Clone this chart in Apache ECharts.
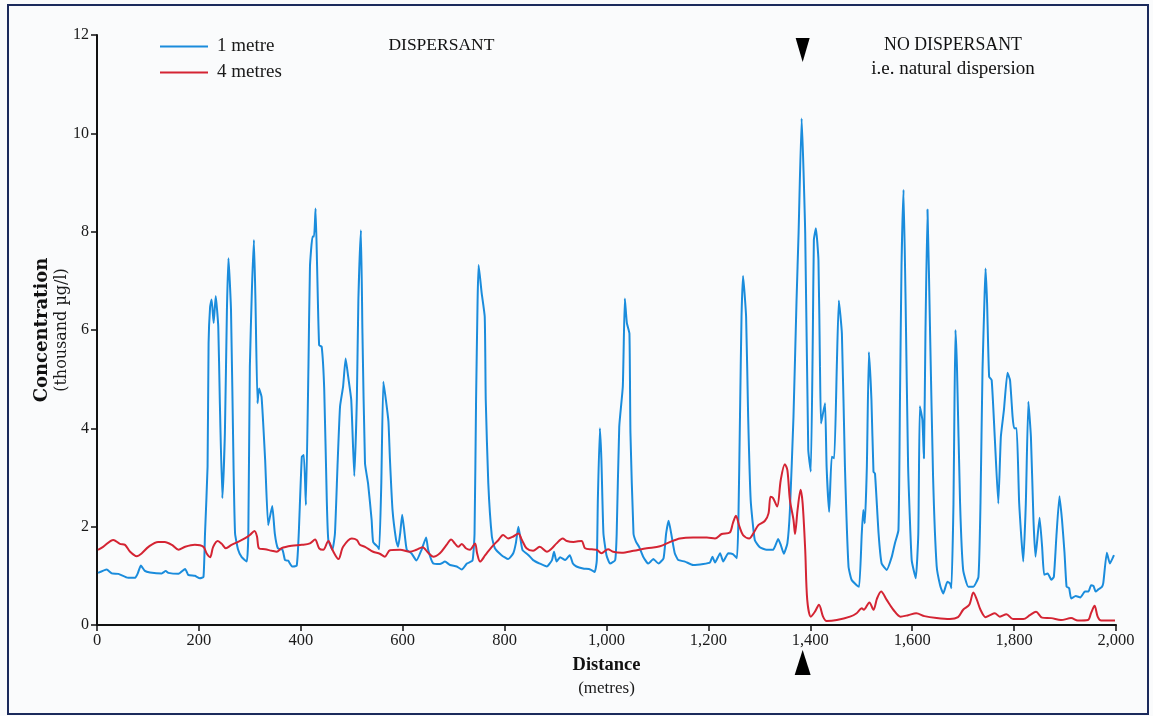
<!DOCTYPE html>
<html>
<head>
<meta charset="utf-8">
<script src="https://cdn.jsdelivr.net/npm/echarts@6/dist/echarts.min.js"></script>
<style>
html,body{margin:0;padding:0;background:#fafbfc;}
#chart{width:1153px;height:716px;}
</style>
</head>
<body>
<div id="chart"></div>
<script>
// ---- Data (distance in metres, concentration in thousand µg/l) ----
const distance1m = [2,19,29,42,61,75,80,86,94,104,127,135,140,160,173,179,192,202,209,212,217,219,222,225,229,233,238,241,246,251,255,258,263,268,271,277,284,294,297,300,304,308,311,315,318,323,330,336,344,349,355,364,369,375,383,392,396,402,406,410,415,418,423,426,429,432,436,441,446,451,454,462,467,472,477,483,488,493,499,505,510,513,518,521,526,532,539,542,551,554,558,562,567,572,575,580,587,591,595,599,603,608,617,627,637,646,650,660,673,683,693,706,716,726,737,741,744,747,749,755,761,763,768,775,781,794,807,817,822,827,830,835,847,856,869,883,893,897,902,909,919,928,934,941,954,968,977,981,983,987,990,994,1000,1007,1017,1020,1025,1032,1036,1040,1045,1047,1053,1058,1064,1072,1082,1092,1102,1112,1117,1122,1128,1134,1141,1154,1170,1190,1203,1208,1213,1223,1229,1239,1248,1256,1259,1262,1265,1268,1274,1278,1283,1291,1301,1314,1327,1337,1342,1348,1355,1360,1367,1373,1377,1383,1390,1396,1401,1405,1407,1411,1416,1419,1421,1425,1429,1432,1437,1442,1447,1452,1456,1462,1468,1475,1481,1491,1496,1501,1504,1507,1511,1515,1520,1524,1527,1534,1540,1550,1560,1566,1573,1576,1579,1583,1587,1592,1599,1607,1612,1615,1620,1623,1626,1630,1635,1641,1648,1655,1661,1669,1674,1677,1681,1683,1685,1688,1694,1700,1710,1720,1730,1734,1738,1742,1744,1747,1751,1756,1762,1769,1774,1780,1787,1792,1797,1800,1805,1810,1818,1823,1828,1833,1838,1842,1850,1855,1859,1866,1873,1878,1883,1889,1894,1899,1903,1908,1912,1921,1930,1939,1946,1951,1956,1960,1966,1972,1975,1982,1988,1996];
const conc1m = [1.06,1.13,1.05,1.04,0.96,0.96,1.05,1.21,1.10,1.07,1.05,1.10,1.06,1.04,1.14,1.02,1.00,0.95,0.98,1.86,3.22,5.73,6.47,6.62,6.14,6.69,6.07,4.58,2.58,3.90,6.41,7.46,6.41,3.22,1.86,1.53,1.38,1.29,1.86,5.25,6.81,7.83,6.61,4.51,4.81,4.64,3.36,2.03,2.42,1.86,1.56,1.53,1.32,1.31,1.19,1.21,1.86,3.42,3.46,2.44,5.25,7.29,7.90,7.90,8.47,7.29,5.69,5.66,4.78,2.54,1.73,1.53,1.86,3.22,4.44,4.85,5.42,5.05,4.58,3.03,4.58,6.61,8.03,5.93,3.29,2.88,2.14,1.69,1.59,1.54,2.88,4.95,4.58,4.14,3.36,2.34,1.73,1.59,1.86,2.24,1.93,1.53,1.46,1.31,1.53,1.78,1.53,1.25,1.24,1.29,1.22,1.19,1.13,1.25,1.31,1.86,4.58,6.61,7.32,6.75,6.27,4.58,2.88,1.80,1.56,1.42,1.34,1.46,1.66,2.00,1.83,1.53,1.42,1.32,1.25,1.19,1.32,1.49,1.29,1.38,1.32,1.42,1.25,1.19,1.15,1.13,1.08,1.32,2.54,4.00,3.36,1.86,1.42,1.25,1.32,1.86,4.03,4.85,6.64,6.14,5.93,3.90,1.86,1.69,1.59,1.39,1.25,1.34,1.25,1.36,1.86,2.12,1.80,1.46,1.32,1.29,1.22,1.24,1.27,1.39,1.27,1.46,1.29,1.46,1.44,1.36,2.20,4.24,6.27,7.10,6.27,4.24,2.54,1.73,1.58,1.53,1.53,1.75,1.63,1.45,1.66,2.34,4.24,6.61,7.97,10.3,7.97,3.56,3.12,5.93,7.83,8.07,7.42,5.25,4.10,4.31,4.51,3.22,2.30,3.42,3.39,5.25,6.60,5.93,3.22,1.19,0.92,0.81,0.78,1.86,2.34,2.07,3.22,5.55,4.58,3.12,3.08,1.86,1.25,1.12,1.39,1.66,1.93,4.58,7.29,8.85,6.61,3.22,1.32,0.95,1.86,4.45,4.17,3.39,5.93,8.45,6.00,3.00,1.20,0.80,0.64,0.88,0.85,0.75,2.47,4.51,6.00,5.19,2.47,1.12,0.78,0.78,0.98,2.47,5.19,6.68,7.25,6.54,5.05,4.98,3.83,2.47,3.83,4.37,5.13,4.98,4.24,4.00,4.00,2.47,1.29,2.47,4.54,3.83,2.14,1.39,2.18,1.59,1.02,1.05,0.92,0.98,1.80,2.62,2.14,1.46,0.78,0.75,0.54,0.59,0.56,0.68,0.68,0.81,0.79,0.68,0.73,0.77,0.85,1.47,1.25,1.42];

const distance4m = [2,12,32,45,55,65,78,88,101,120,133,147,160,173,192,209,215,222,228,237,245,253,264,277,290,300,309,314,318,330,343,353,362,382,402,418,428,436,444,454,462,474,483,500,510,516,526,542,555,565,575,595,614,627,639,650,660,673,686,695,703,709,716,724,732,742,746,752,762,775,788,797,807,817,827,834,843,856,869,883,893,902,914,922,935,951,958,971,981,990,1003,1013,1030,1053,1079,1105,1125,1144,1170,1197,1213,1226,1242,1248,1254,1261,1268,1280,1288,1298,1311,1318,1322,1327,1335,1342,1350,1355,1360,1367,1370,1375,1381,1385,1390,1394,1401,1409,1417,1425,1432,1452,1478,1491,1501,1505,1516,1524,1531,1539,1550,1563,1577,1592,1608,1624,1648,1674,1690,1700,1712,1720,1727,1734,1744,1753,1762,1772,1785,1798,1818,1831,1843,1855,1873,1892,1912,1925,1945,1951,1958,1964,1971,1998];
const conc4m = [1.53,1.59,1.73,1.65,1.63,1.49,1.40,1.46,1.59,1.69,1.69,1.63,1.53,1.59,1.63,1.59,1.46,1.38,1.59,1.71,1.65,1.56,1.63,1.69,1.76,1.83,1.91,1.80,1.56,1.54,1.51,1.49,1.56,1.61,1.63,1.66,1.74,1.56,1.53,1.71,1.53,1.34,1.59,1.76,1.73,1.63,1.59,1.49,1.45,1.39,1.52,1.53,1.49,1.53,1.58,1.47,1.39,1.46,1.63,1.74,1.65,1.59,1.65,1.56,1.53,1.66,1.46,1.29,1.42,1.59,1.73,1.83,1.76,1.80,1.86,1.73,1.56,1.51,1.59,1.49,1.56,1.66,1.76,1.71,1.69,1.71,1.56,1.54,1.53,1.46,1.54,1.49,1.47,1.51,1.56,1.60,1.69,1.76,1.78,1.78,1.76,1.85,1.88,2.07,2.22,2.00,1.83,1.76,1.86,2.03,2.12,2.27,2.61,2.58,2.41,2.95,3.27,3.15,2.54,2.14,1.85,2.34,2.75,2.47,1.53,0.51,0.17,0.27,0.41,0.17,0.08,0.10,0.17,0.24,0.34,0.31,0.46,0.31,0.54,0.68,0.51,0.31,0.17,0.20,0.24,0.18,0.14,0.12,0.16,0.31,0.41,0.66,0.51,0.31,0.16,0.20,0.24,0.17,0.22,0.12,0.12,0.20,0.27,0.15,0.14,0.10,0.14,0.09,0.10,0.24,0.39,0.17,0.09,0.09];

const xTicks = [0,200,400,600,800,1000,1200,1400,1600,1800,2000];
const yTicks = [0,2,4,6,8,10,12];
const switchDistance = 1385; // dispersant stops here (arrow markers)
const seriesNames = ['1 metre','4 metres'];

// ---- Chart ----
const FONT = '"Liberation Serif", "DejaVu Serif", serif';
const WIDE = '"DejaVu Serif", "Liberation Serif", serif';
const BLUE = '#1a8cdc';
const RED = '#d42433';
const zip = (a,b) => a.map((v,i)=>[v,b[i]]);

const chart = echarts.init(document.getElementById('chart'), null, {renderer:'canvas'});
const option = {
  backgroundColor: '#fafbfc',
  animation: false,
  grid: {left: 97, right: 37, top: 35, bottom: 91, containLabel: false},
  legend: {
    left: 155, top: 32, orient: 'vertical', itemWidth: 48, itemHeight: 2, itemGap: 7,
    icon: 'rect',
    textStyle: {fontFamily: FONT, fontSize: 19, color: '#1a1a1a', padding: [0,0,0,4]},
    data: seriesNames
  },
  xAxis: {
    type: 'value', min: xTicks[0], max: xTicks[xTicks.length-1], interval: 200,
    axisLine: {show: true, lineStyle: {color: '#111', width: 2}},
    axisTick: {show: true, length: 6, lineStyle: {color: '#111', width: 1.5}},
    splitLine: {show: false},
    axisLabel: {fontFamily: FONT, fontSize: 16.5, color: '#1a1a1a', margin: 7,
      formatter: v => v.toLocaleString('en-US')},
    name: '{b|Distance}\n{s|(metres)}',
    nameLocation: 'middle', nameGap: 29, nameMoveOverlap: false,
    nameTextStyle: {fontFamily: FONT, rich: {
      b: {fontFamily: FONT, fontSize: 18.5, fontWeight: 'bold', color: '#111', lineHeight: 23},
      s: {fontFamily: FONT, fontSize: 17, color: '#1a1a1a', lineHeight: 23}
    }}
  },
  yAxis: {
    type: 'value', min: yTicks[0], max: yTicks[yTicks.length-1], interval: 2,
    axisLine: {show: true, lineStyle: {color: '#111', width: 2}},
    axisTick: {show: true, length: 6, lineStyle: {color: '#111', width: 1.5}},
    splitLine: {show: false},
    axisLabel: {fontFamily: FONT, fontSize: 16, color: '#1a1a1a', margin: 8},
    name: '{b|Concentration}\n{s|(thousand µg/l)}',
    nameLocation: 'middle', nameGap: 26, nameRotate: 90, nameMoveOverlap: false,
    nameTextStyle: {fontFamily: WIDE, rich: {
      b: {fontFamily: WIDE, fontSize: 18, fontWeight: 'bold', color: '#111', lineHeight: 19},
      s: {fontFamily: WIDE, fontSize: 16, color: '#1a1a1a', lineHeight: 19}
    }}
  },
  series: [
    {name: seriesNames[0], type: 'line', data: zip(distance1m, conc1m), showSymbol: false,
     smooth: 0.15, lineStyle: {color: BLUE, width: 2}, itemStyle: {color: BLUE}, z: 3},
    {name: seriesNames[1], type: 'line', data: zip(distance4m, conc4m), showSymbol: false,
     smooth: 0.3, lineStyle: {color: RED, width: 2}, itemStyle: {color: RED}, z: 4}
  ]
};
chart.setOption(option);

// Annotations positioned from data coordinates
const [ax] = chart.convertToPixel({gridIndex: 0}, [switchDistance, 0]);
const [dispX] = chart.convertToPixel({gridIndex: 0}, [676, 0]);
const [noDispX] = chart.convertToPixel({gridIndex: 0}, [1680, 0]);
const textStyle = (txt, x, y, size, weight) => ({
  type: 'text', x: x, y: y,
  style: {text: txt, fontFamily: FONT, fontSize: size, fontWeight: weight || 'normal',
          fill: '#111', align: 'center', verticalAlign: 'middle'}
});
chart.setOption({
  graphic: [
    {type: 'rect', shape: {x: 8, y: 5, width: 1140, height: 709},
     style: {fill: 'none', stroke: '#1b2a5c', lineWidth: 2}, silent: true, z: -1},
    textStyle('DISPERSANT', dispX, 45, 17.5, 'normal'),
    textStyle('NO DISPERSANT', noDispX, 45, 17.8, 'normal'),
    textStyle('i.e. natural dispersion', noDispX, 69, 19, 'normal'),
    {type: 'polygon', shape: {points: [[ax-7, 38], [ax+7, 38], [ax, 62]]}, style: {fill: '#000'}},
    {type: 'polygon', shape: {points: [[ax-8, 675], [ax+8, 675], [ax, 650]]}, style: {fill: '#000'}}
  ]
});
</script>
</body>
</html>
